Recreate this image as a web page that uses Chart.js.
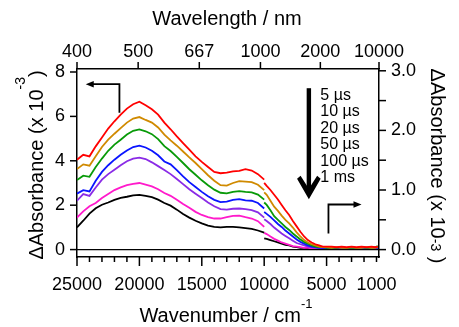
<!DOCTYPE html>
<html><head><meta charset="utf-8">
<script src="https://cdn.jsdelivr.net/npm/chart.js@4"></script>
<style>html,body{margin:0;padding:0;background:#fff}#wrap{width:459px;height:327px;position:relative}</style>
</head><body><div id="wrap"><canvas id="c" width="459" height="327"></canvas></div>
<script>
// ---------- data ----------
const delayLabels = ['5 µs', '10 µs', '20 µs', '50 µs', '100 µs', '1 ms'];

// visible region (left axis, x 10^-3)
const visWavenumber = [25000,24500,24000,23500,23000,22500,22000,21500,21000,20500,20000,19500,19000,18500,18000,17500,17000,16500,16000,15500,15000,14500,14000,13500,13000,12500,12000,11500,11000,10500,10000];
const vis5us   = [4.05,4.27,4.20,4.65,5.05,5.45,5.78,6.08,6.35,6.55,6.66,6.50,6.32,6.08,5.72,5.42,5.10,4.80,4.50,4.20,3.95,3.72,3.50,3.44,3.47,3.52,3.55,3.62,3.56,3.40,3.15];
const vis10us  = [3.63,3.84,3.78,4.20,4.62,4.95,5.22,5.47,5.72,5.90,5.97,5.84,5.72,5.50,5.18,4.92,4.68,4.42,4.15,3.90,3.62,3.35,3.10,2.90,2.88,3.00,3.08,3.06,3.04,2.92,2.68];
const vis20us  = [3.13,3.33,3.28,3.72,4.10,4.45,4.73,4.95,5.18,5.35,5.41,5.33,5.20,4.98,4.66,4.44,4.18,3.90,3.62,3.37,3.12,2.90,2.70,2.56,2.53,2.60,2.63,2.60,2.58,2.48,2.25];
const vis50us  = [2.52,2.68,2.62,3.10,3.50,3.80,4.05,4.27,4.46,4.62,4.68,4.60,4.45,4.25,3.97,3.84,3.58,3.30,3.04,2.82,2.60,2.40,2.24,2.14,2.16,2.24,2.27,2.22,2.20,2.10,1.85];
const vis100us = [2.20,2.50,2.42,2.80,3.15,3.40,3.60,3.80,3.98,4.10,4.14,4.08,3.93,3.76,3.58,3.40,3.18,2.95,2.72,2.52,2.32,2.12,1.95,1.82,1.80,1.84,1.85,1.82,1.78,1.68,1.44];
const visMagenta = [1.44,1.72,1.95,2.10,2.32,2.50,2.68,2.80,2.90,2.96,3.00,2.93,2.85,2.72,2.55,2.42,2.24,2.05,1.88,1.70,1.56,1.46,1.40,1.40,1.46,1.52,1.53,1.46,1.40,1.28,1.02];
const vis1ms   = [1.00,1.30,1.62,1.86,2.02,2.12,2.24,2.33,2.38,2.44,2.46,2.42,2.36,2.25,2.10,1.98,1.80,1.60,1.44,1.30,1.18,1.08,1.02,1.00,1.02,1.02,1.00,0.97,0.93,0.86,0.76];

// near-IR region (right axis, x 10^-3)
const nirWavenumber = [10000,9800,9500,9200,8900,8600,8300,8000,7700,7400,7100,6800,6500,6200,5900,5600,5300,5000,4600,4200,3800,3400,3000,2600,2200,1800,1400,1100,900];
const nir5us   = [1.12,1.07,1.00,0.92,0.84,0.75,0.66,0.58,0.48,0.39,0.30,0.22,0.16,0.12,0.09,0.07,0.05,0.05,0.05,0.04,0.05,0.04,0.05,0.04,0.05,0.04,0.05,0.04,0.05];
const nir10us  = [0.96,0.92,0.82,0.72,0.65,0.57,0.50,0.44,0.37,0.29,0.22,0.16,0.12,0.09,0.07,0.05,0.04,0.04,0.03,0.04,0.03,0.03,0.04,0.03,0.03,0.04,0.03,0.03,0.04];
const nir20us  = [0.79,0.75,0.66,0.56,0.50,0.44,0.38,0.33,0.27,0.22,0.17,0.13,0.10,0.07,0.05,0.04,0.04,0.03,0.03,0.03,0.04,0.03,0.03,0.03,0.04,0.03,0.03,0.04,0.06];
const nir50us  = [0.63,0.60,0.55,0.49,0.43,0.38,0.32,0.27,0.22,0.17,0.13,0.10,0.07,0.05,0.04,0.03,0.03,0.03,0.02,0.03,0.03,0.02,0.03,0.03,0.02,0.03,0.03,0.02,0.03];
const nir100us = [0.51,0.48,0.43,0.37,0.32,0.27,0.23,0.19,0.15,0.11,0.09,0.07,0.05,0.04,0.03,0.03,0.02,0.03,0.02,0.02,0.03,0.02,0.02,0.03,0.02,0.02,0.03,0.02,0.02];
const nirMagenta = [0.28,0.26,0.22,0.18,0.15,0.12,0.10,0.08,0.06,0.05,0.04,0.03,0.03,0.02,0.02,0.02,0.03,0.02,0.02,0.02,0.03,0.02,0.02,0.03,0.02,0.02,0.02,0.03,0.02];
const nir1ms   = [0.19,0.18,0.16,0.14,0.12,0.10,0.08,0.07,0.05,0.04,0.03,0.03,0.02,0.02,0.02,0.01,0.02,0.02,0.01,0.02,0.02,0.01,0.02,0.02,0.01,0.02,0.01,0.02,0.02];

// axis ticks
const bottomTickValues = [25000,20000,15000,10000,5000,1000];
const topTickValues = [25000,20100,15200,10300,5500,800];
const topTickLabels = ['400','500','667','1000','2000','10000'];
const leftTickValues = [0,2,4,6,8];
const rightTickValues = [0,1,2,3];
const rightMinorTicks = [0.5,1.5,2.5];

// ---------- styles ----------
const seriesColors = ['#ff0000','#d08a00','#089a08','#0a14ff','#8a2be6','#ff1acb','#000000'];
const visSeries = [vis5us, vis10us, vis20us, vis50us, vis100us, visMagenta, vis1ms];
const nirSeries = [nir5us, nir10us, nir20us, nir50us, nir100us, nirMagenta, nir1ms];

const FONT = '"Liberation Sans", Arial, sans-serif';
Chart.defaults.font.family = FONT;
Chart.defaults.color = '#000';

const datasets = [];
visSeries.forEach((arr, i) => {
  datasets.push({
    data: visWavenumber.map((x, k) => ({x, y: arr[k]})),
    yAxisID: 'y', xAxisID: 'x',
    borderColor: seriesColors[i], borderWidth: 1.8,
    pointRadius: 0, fill: false, tension: 0
  });
});
nirSeries.forEach((arr, i) => {
  datasets.push({
    data: nirWavenumber.map((x, k) => ({x, y: arr[k]})),
    yAxisID: 'y2', xAxisID: 'x',
    borderColor: seriesColors[i], borderWidth: 1.8,
    pointRadius: 0, fill: false, tension: 0
  });
});

function drawRich(ctx, parts, cx, cy, angle) {
  ctx.save();
  ctx.translate(cx, cy);
  ctx.rotate(angle);
  let total = 0;
  parts.forEach(p => { ctx.font = p.size + 'px ' + FONT; p.w = ctx.measureText(p.t).width; total += p.w; });
  let x = -total / 2;
  ctx.textBaseline = 'alphabetic';
  ctx.textAlign = 'left';
  ctx.fillStyle = '#000';
  parts.forEach(p => { ctx.font = p.size + 'px ' + FONT; ctx.fillText(p.t, x, p.dy || 0); x += p.w; });
  ctx.restore();
}

function arrowHead(ctx, tx, ty, dir) {
  const s = dir === 'left' ? 1 : -1;
  ctx.beginPath();
  ctx.moveTo(tx, ty);
  ctx.lineTo(tx + s * 8, ty - 3.3);
  ctx.lineTo(tx + s * 8, ty + 3.3);
  ctx.closePath();
  ctx.fill();
}

const decorPlugin = {
  id: 'decor',
  afterDraw(chart) {
    const ctx = chart.ctx;
    const {x, x2, y, y2} = chart.scales;
    const area = chart.chartArea;
    ctx.save();
    ctx.strokeStyle = '#000';
    ctx.fillStyle = '#000';
    // zero line
    const y0 = y.getPixelForValue(0);
    ctx.lineWidth = 1.2;
    ctx.beginPath(); ctx.moveTo(area.left, y0); ctx.lineTo(area.right, y0); ctx.stroke();
    ctx.lineWidth = 1.5;
    // bottom ticks
    for (let v = 25000; v >= 1000; v -= 1000) {
      const px = x.getPixelForValue(v);
      const major = v % 5000 === 0;
      ctx.beginPath(); ctx.moveTo(px, area.bottom); ctx.lineTo(px, area.bottom + (major ? 9 : 5)); ctx.stroke();
    }
    // top ticks
    topTickValues.forEach(v => {
      const px = x2.getPixelForValue(v);
      ctx.beginPath(); ctx.moveTo(px, area.top); ctx.lineTo(px, area.top - 7); ctx.stroke();
    });
    // left ticks
    leftTickValues.forEach(v => {
      const py = y.getPixelForValue(v);
      ctx.beginPath(); ctx.moveTo(area.left, py); ctx.lineTo(area.left - 7, py); ctx.stroke();
    });
    // right ticks
    rightTickValues.concat(rightMinorTicks).forEach(v => {
      const py = y2.getPixelForValue(v);
      ctx.beginPath(); ctx.moveTo(area.right, py); ctx.lineTo(area.right + 7, py); ctx.stroke();
    });

    // titles
    drawRich(ctx, [{t: 'Wavelength / nm', size: 20}], (area.left + area.right) / 2 - 1, 25, 0);
    drawRich(ctx, [{t: 'Wavenumber / cm', size: 20}, {t: '-1', size: 13, dy: -14}], (area.left + area.right) / 2 - 2, 322, 0);
    drawRich(ctx, [{t: 'ΔAbsorbance (x 10', size: 20}, {t: '-3', size: 14, dy: -18}, {t: ')', size: 20}], 43, 165, -Math.PI / 2);
    drawRich(ctx, [{t: 'ΔAbsorbance (x 10', size: 20}, {t: '-3', size: 14, dy: 0}, {t: ' )', size: 20}], 431, 166, Math.PI / 2);

    // legend text
    const lx = x.getPixelForValue(5500);
    const ly = y.getPixelForValue(6.75);
    ctx.font = '16px ' + FONT;
    ctx.textAlign = 'left';
    ctx.textBaseline = 'alphabetic';
    delayLabels.forEach((t, i) => ctx.fillText(t, lx, ly + i * 16.5));

    // big downward arrow
    const ax = x.getPixelForValue(6420);
    const aTop = y.getPixelForValue(7.27);
    const aTip = y.getPixelForValue(2.27);
    ctx.fillRect(ax - 2.2, aTop, 4.4, aTip - aTop - 8);
    ctx.beginPath();
    ctx.moveTo(ax, aTip);
    ctx.lineTo(ax + 11.8, aTip - 20.5);
    ctx.lineTo(ax + 8.3, aTip - 23.5);
    ctx.lineTo(ax, aTip - 10.5);
    ctx.lineTo(ax - 8.3, aTip - 23.5);
    ctx.lineTo(ax - 11.8, aTip - 20.5);
    ctx.closePath();
    ctx.fill();

    // left-pointing small arrow
    ctx.lineWidth = 1.8;
    const lvx = x.getPixelForValue(21600);
    const lyTop = y.getPixelForValue(7.45);
    const lyBot = y.getPixelForValue(6.16);
    const ltip = x.getPixelForValue(24300);
    ctx.beginPath(); ctx.moveTo(lvx, lyBot); ctx.lineTo(lvx, lyTop); ctx.lineTo(ltip + 4, lyTop); ctx.stroke();
    arrowHead(ctx, ltip, lyTop, 'left');

    // right-pointing small arrow
    const rvx = x.getPixelForValue(4850);
    const ryTop = y.getPixelForValue(2.03);
    const ryBot = y.getPixelForValue(0.72);
    const rtip = x.getPixelForValue(2200);
    ctx.beginPath(); ctx.moveTo(rvx, ryBot); ctx.lineTo(rvx, ryTop); ctx.lineTo(rtip - 4, ryTop); ctx.stroke();
    arrowHead(ctx, rtip, ryTop, 'right');

    ctx.restore();
  }
};

const borderOpt = {display: true, color: '#000', width: 1.5};
const gridOff = {display: false, drawTicks: false, tickLength: 0};

new Chart(document.getElementById('c'), {
  type: 'line',
  data: {datasets},
  options: {
    responsive: false,
    animation: false,
    devicePixelRatio: 1,
    layout: {padding: 0},
    plugins: {legend: {display: false}, tooltip: {enabled: false}},
    scales: {
      x: {
        type: 'linear', axis: 'x', position: 'bottom', reverse: true, min: 800, max: 25000,
        grid: gridOff, border: borderOpt,
        ticks: {autoSkip: false, maxRotation: 0, font: {size: 18}, padding: 17, color: '#000', callback: v => String(v)},
        afterBuildTicks: s => { s.ticks = bottomTickValues.map(v => ({value: v})); },
        afterFit: s => { s.height = 70; }
      },
      x2: {
        type: 'linear', axis: 'x', position: 'top', reverse: true, min: 800, max: 25000,
        grid: gridOff, border: borderOpt,
        ticks: {autoSkip: false, maxRotation: 0, font: {size: 18}, padding: 6.5, color: '#000', callback: (v, i) => topTickLabels[i]},
        afterBuildTicks: s => { s.ticks = topTickValues.map(v => ({value: v})); },
        afterFit: s => { s.height = 69; }
      },
      y: {
        type: 'linear', position: 'left', min: -0.334, max: 8.135,
        grid: gridOff, border: borderOpt,
        ticks: {font: {size: 18}, padding: 12, color: '#000', callback: v => String(v)},
        afterBuildTicks: s => { s.ticks = leftTickValues.map(v => ({value: v})); },
        afterFit: s => { s.width = 77; }
      },
      y2: {
        type: 'linear', position: 'right', min: -0.124, max: 3.03,
        grid: gridOff, border: borderOpt,
        ticks: {font: {size: 18}, padding: 12, color: '#000', callback: v => v.toFixed(1)},
        afterBuildTicks: s => { s.ticks = rightTickValues.map(v => ({value: v})); },
        afterFit: s => { s.width = 80; }
      }
    }
  },
  plugins: [decorPlugin]
});
</script>
</body></html>
